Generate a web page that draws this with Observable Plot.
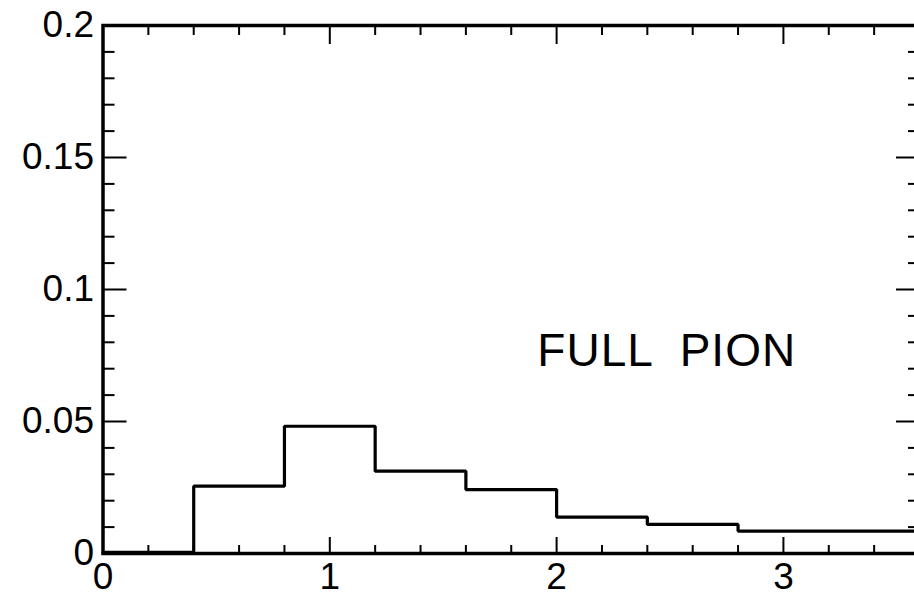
<!DOCTYPE html>
<html>
<head>
<meta charset="utf-8">
<script src="https://cdn.jsdelivr.net/npm/d3@7"></script>
<script src="https://cdn.jsdelivr.net/npm/@observablehq/plot@0.6"></script>
<style>
  html, body { margin: 0; padding: 0; overflow: hidden; background: white; }
  svg text { white-space: pre; }
</style>
</head>
<body>
<div id="chart"></div>
<script>
// Histogram bins (width 0.4) and contents
const binEdges = [0, 0.4, 0.8, 1.2, 1.6, 2.0, 2.4, 2.8, 3.2, 3.6];
const binValues = [0.0004, 0.0255, 0.0482, 0.0312, 0.0242, 0.0138, 0.011, 0.0085, 0.0085];

// Axis ticks
const xMajorTicks = [0, 1, 2, 3];
const xMinorTicks = [0.2, 0.4, 0.6, 0.8, 1.2, 1.4, 1.6, 1.8, 2.2, 2.4, 2.6, 2.8, 3.2, 3.4];
const yMajorTicks = [0, 0.05, 0.1, 0.15, 0.2];
const yMinorTicks = [0.01, 0.02, 0.03, 0.04, 0.06, 0.07, 0.08, 0.09, 0.11, 0.12, 0.13, 0.14, 0.16, 0.17, 0.18, 0.19];
const yTickLabels = ["0", "0.05", "0.1", "0.15", "0.2"];
const xTickLabels = ["0", "1", "2", "3"];

const annotation = ["FULL  PION"];

// step points: one per bin left edge, plus the final right edge
const steps = binValues.map((v, i) => ({x: binEdges[i], y: v}));
steps.push({x: binEdges[binEdges.length - 1], y: binValues[binValues.length - 1]});

const font = "'Liberation Sans', Arial, Helvetica, sans-serif";

const chart = Plot.plot({
  width: 924,
  height: 594,
  marginLeft: 102.5,
  marginRight: 5,
  marginTop: 25,
  marginBottom: 41,
  style: {maxWidth: "none", fontFamily: font, background: "white", color: "black"},
  x: {domain: [0, 3.6], label: null},
  y: {domain: [0, 0.2], label: null},
  marks: [
    // inward ticks
    Plot.axisX(xMajorTicks, {anchor: "bottom", tickSize: -16, tickFormat: () => "", strokeWidth: 2}),
    Plot.axisX(xMinorTicks, {anchor: "bottom", tickSize: -8, tickFormat: () => "", strokeWidth: 2}),
    Plot.axisX(xMajorTicks, {anchor: "top", tickSize: -18, tickFormat: () => "", strokeWidth: 2}),
    Plot.axisX(xMinorTicks, {anchor: "top", tickSize: -9, tickFormat: () => "", strokeWidth: 2}),
    Plot.axisY(yMajorTicks, {anchor: "left", tickSize: -24, tickFormat: () => "", strokeWidth: 2}),
    Plot.axisY(yMinorTicks, {anchor: "left", tickSize: -12, tickFormat: () => "", strokeWidth: 2}),
    Plot.axisY(yMajorTicks, {anchor: "right", tickSize: -24, tickFormat: () => "", strokeWidth: 2}),
    Plot.axisY(yMinorTicks, {anchor: "right", tickSize: -12, tickFormat: () => "", strokeWidth: 2}),
    // labels
    Plot.axisY(yMajorTicks, {anchor: "left", tickSize: 0, tickPadding: 9, fontSize: 37,
      tickFormat: (d) => yTickLabels[yMajorTicks.indexOf(d)], fill: "black"}),
    Plot.axisX(xMajorTicks, {anchor: "bottom", tickSize: 0, tickPadding: 9, fontSize: 37,
      tickFormat: (d) => xTickLabels[xMajorTicks.indexOf(d)], fill: "black"}),
    // histogram outline
    Plot.line(steps, {x: "x", y: "y", curve: "step-after", stroke: "black", strokeWidth: 3.2, strokeLinejoin: "miter"}),
    // frame
    Plot.frame({stroke: "black", strokeWidth: 3.5}),
    // annotation
    Plot.text(annotation, {x: 1.915, y: 0.0765, text: (d) => d, textAnchor: "start", fontSize: 46, fill: "black",
      style: {letterSpacing: "1px"}})
  ]
});
chart.querySelectorAll("text").forEach((t) => {
  if (t.textContent === annotation[0]) t.setAttribute("letter-spacing", "1");
});
document.getElementById("chart").appendChild(chart);
</script>
</body>
</html>
